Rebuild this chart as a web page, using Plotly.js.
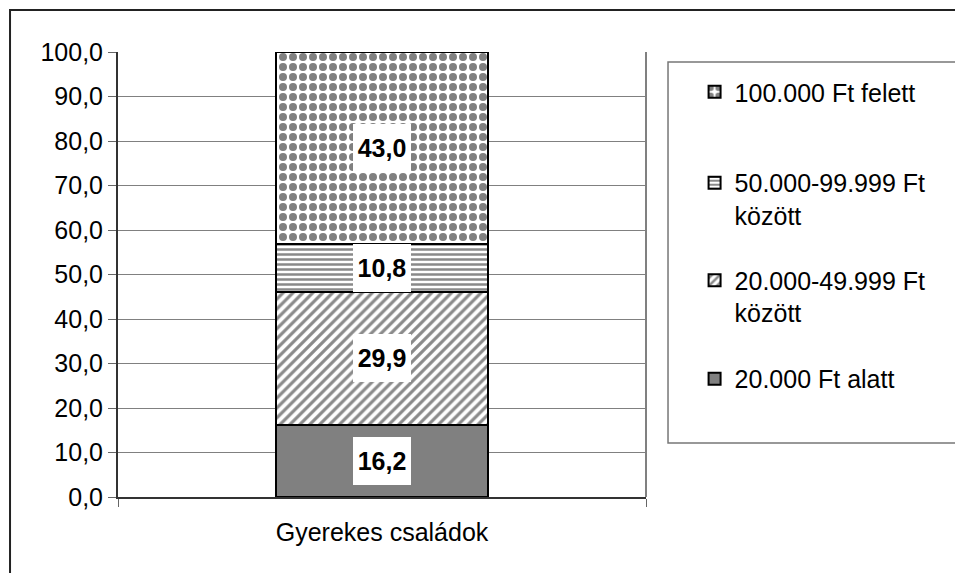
<!DOCTYPE html>
<html><head><meta charset="utf-8">
<script src="https://cdn.plot.ly/plotly-3.0.1.min.js"></script>
<style>html,body{margin:0;padding:0;background:#fff}#chart{width:955px;height:573px}</style>
</head><body><div id="chart"></div>
<script>
// ---- data ----
const categories = ['Gyerekes családok'];
const seriesNames = ['20.000 Ft alatt', '20.000-49.999 Ft<br>között', '50.000-99.999 Ft<br>között', '100.000 Ft felett'];
const under20k = [16.2];
const from20kTo50k = [29.9];
const from50kTo100k = [10.8];
const over100k = [43.0];
const yTickVals = [0, 10, 20, 30, 40, 50, 60, 70, 80, 90, 100];

// ---- styles ----
const FONT = 'Liberation Sans, Arial, sans-serif';
const seriesValues = [under20k, from20kTo50k, from50kTo100k, over100k];
const markers = [
  {color: '#808080', line: {color: '#000', width: 2}},
  {color: '#ffffff', line: {color: '#000', width: 2},
   pattern: {shape: '/', fgcolor: '#8a8a8a', bgcolor: '#ffffff', size: 7, solidity: 0.45, fillmode: 'replace'}},
  {color: '#ffffff', line: {color: '#000', width: 2},
   pattern: {shape: '-', fgcolor: '#8a8a8a', bgcolor: '#ffffff', size: 5, solidity: 0.5, fillmode: 'replace'}},
  {color: '#ffffff', line: {color: '#000', width: 2},
   pattern: {shape: '.', fgcolor: '#808080', bgcolor: '#ffffff', size: 10, solidity: 0.5, fillmode: 'replace'}}
];
const legendIds = ['legend4', 'legend3', 'legend2', 'legend'];
const legendY = [0.2652, 0.4506, 0.6697, 0.9100];

const traces = seriesValues.map((vals, i) => ({
  type: 'bar',
  x: categories,
  y: vals,
  name: seriesNames[i],
  marker: markers[i],
  width: 0.4,
  legend: legendIds[i],
  hoverinfo: 'skip'
}));

// data labels centred in each stacked segment
const annotations = [];
categories.forEach((cat, ci) => {
  let base = 0;
  seriesValues.forEach(vals => {
    const v = vals[ci];
    annotations.push({
      x: cat, y: base + v / 2, xref: 'x', yref: 'y',
      text: '<b>' + v.toFixed(1).replace('.', ',') + '</b>',
      showarrow: false, bgcolor: '#ffffff', borderwidth: 0, borderpad: 3,
      width: 52, height: 42,
      font: {family: FONT, size: 25, color: '#000'}
    });
    base += v;
  });
});

const legendBase = {
  x: 1.092, xanchor: 'left', yanchor: 'middle',
  bgcolor: 'rgba(0,0,0,0)', borderwidth: 0, valign: 'top',
  font: {family: FONT, size: 25, color: '#000'}
};

const layout = {
  width: 955, height: 573,
  margin: {l: 118, r: 309, t: 52, b: 76},
  paper_bgcolor: '#ffffff', plot_bgcolor: '#ffffff',
  barmode: 'stack',
  separators: ', ',
  font: {family: FONT, size: 25, color: '#000'},
  xaxis: {
    type: 'category', range: [-0.5, 0.5],
    showline: true, linecolor: '#333', linewidth: 2,
    ticks: 'outside', tickson: 'boundaries', ticklen: 8, tickcolor: '#666', tickwidth: 1,
    ticklabelstandoff: 12,
    tickfont: {family: FONT, size: 25, color: '#000'},
    showgrid: false, zeroline: false, fixedrange: true
  },
  yaxis: {
    range: [0, 100], tickvals: yTickVals, tickformat: '.1f',
    showline: true, linecolor: '#333', linewidth: 2,
    ticks: 'outside', ticklen: 8, tickcolor: '#666', tickwidth: 1,
    showgrid: true, gridcolor: '#808080', gridwidth: 1,
    zeroline: false,
    tickfont: {family: FONT, size: 25, color: '#000'},
    fixedrange: true
  },
  legend:  Object.assign({}, legendBase, {y: legendY[3]}),
  legend2: Object.assign({}, legendBase, {y: legendY[2]}),
  legend3: Object.assign({}, legendBase, {y: legendY[1]}),
  legend4: Object.assign({}, legendBase, {y: legendY[0]}),
  showlegend: true,
  annotations: annotations,
  shapes: [
    // outer chart frame (only top/left visible)
    {type: 'rect', xref: 'paper', yref: 'paper', x0: -0.2045, x1: 1.7, y0: -0.3, y1: 1.0944,
     line: {color: '#222', width: 2}, fillcolor: 'rgba(0,0,0,0)', layer: 'below'},
    // plot area right border
    {type: 'line', xref: 'paper', yref: 'paper', x0: 1, x1: 1, y0: 0, y1: 1,
     line: {color: '#808080', width: 2}},
    // legend box
    {type: 'rect', xref: 'paper', yref: 'paper', x0: 1.0417, x1: 1.7, y0: 0.1213, y1: 0.9775,
     line: {color: '#777', width: 1.5}, fillcolor: 'rgba(0,0,0,0)'}
  ]
};

Plotly.newPlot('chart', traces, layout, {displayModeBar: false, staticPlot: true});
</script>
</body></html>
